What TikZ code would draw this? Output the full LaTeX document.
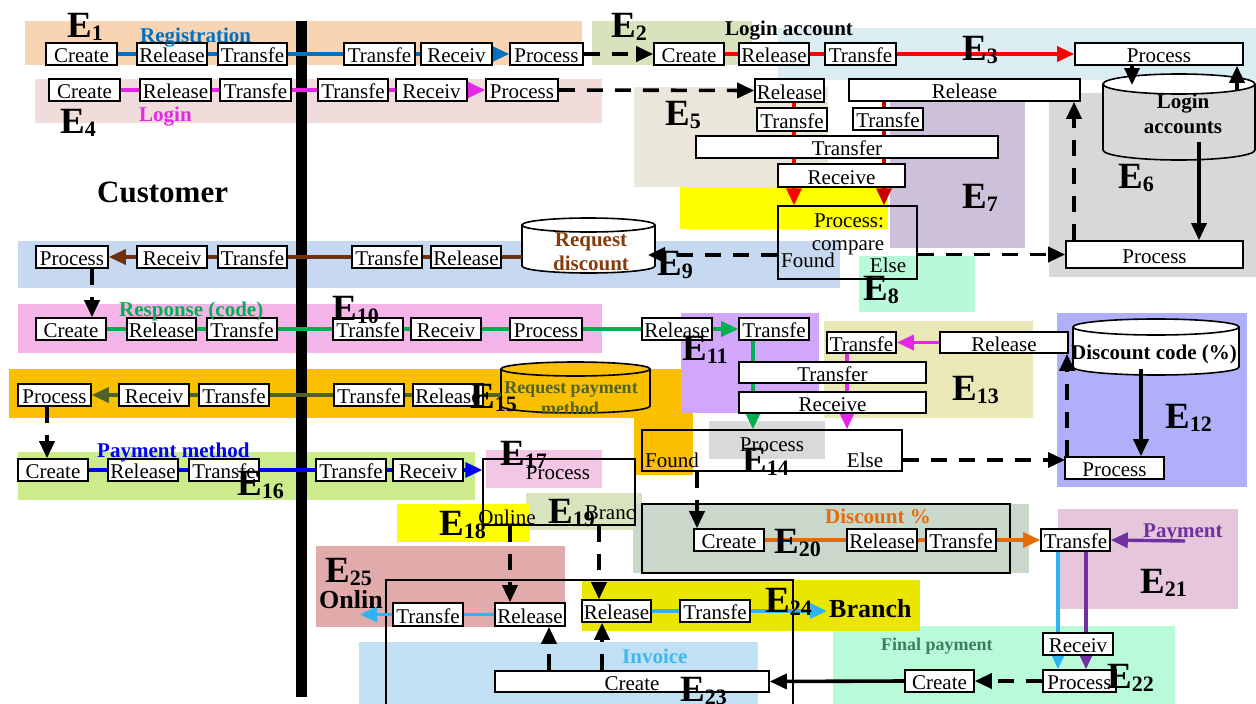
\documentclass[tikz,border=0pt]{standalone}
\usepackage{fontspec}
\setmainfont{Liberation Serif}
\usetikzlibrary{arrows.meta,calc}

\pgfdeclarelayer{bg}\pgfdeclarelayer{mid}\pgfdeclarelayer{lines}\pgfdeclarelayer{front}
\pgfsetlayers{bg,mid,lines,main,front}

% region fills
\definecolor{cE1}{HTML}{F8D4B2}\definecolor{cE4}{HTML}{F0DCDB}
\definecolor{cE2}{HTML}{D6E3BD}\definecolor{cE3}{HTML}{DAEDF3}
\definecolor{cE5}{HTML}{EAE6DA}\definecolor{cE7}{HTML}{CCC0DA}
\definecolor{yel}{HTML}{FFFF00}\definecolor{cE9}{HTML}{C6D9F0}
\definecolor{cE8}{HTML}{B9F9D9}\definecolor{cE6}{HTML}{D8D8D8}
\definecolor{cE10}{HTML}{F5B5E8}\definecolor{cE15}{HTML}{FAC000}
\definecolor{cE11}{HTML}{D2A6FA}\definecolor{cE13}{HTML}{EBE8B8}
\definecolor{cE12}{HTML}{AFAFFA}\definecolor{cE14}{HTML}{D9D9D9}
\definecolor{cE16}{HTML}{CCEC8C}\definecolor{cE17}{HTML}{F2C6E4}
\definecolor{cE19}{HTML}{D7E4BD}\definecolor{cE20}{HTML}{C9D8CB}
\definecolor{cE21}{HTML}{E6C6DB}\definecolor{cE22}{HTML}{B9FBD9}
\definecolor{cE25}{HTML}{E2ABAB}\definecolor{cE24}{HTML}{EAE600}
\definecolor{cE23}{HTML}{C1E0F3}
% flow colours
\definecolor{lnBlue}{HTML}{0070C0}\definecolor{lnMag}{HTML}{E626E6}
\definecolor{lnRed}{HTML}{FF0000}\definecolor{lnDRed}{HTML}{C80000}
\definecolor{lnBrown}{HTML}{6E3210}\definecolor{lnGreen}{HTML}{00B050}
\definecolor{lnOlive}{HTML}{4F6228}\definecolor{lnPure}{HTML}{0000FF}
\definecolor{lnOrange}{HTML}{E46C0A}\definecolor{lnPurple}{HTML}{7030A0}
\definecolor{lnSky}{HTML}{2EB4F0}\definecolor{txBrown}{HTML}{843C0C}
\definecolor{txFinal}{HTML}{3C7D5F}\definecolor{txInvoice}{HTML}{3FB8F0}

\newcommand\fsz[1]{\fontsize{#1}{#1}\selectfont}

% white step box: name, x1, y1, x2, y2, text
\newcommand\bx[6]{\node[bx, minimum width={#4-#2}, minimum height={#5-#3}] (#1) at ({(#2+#4)/2},{(#3+#5)/2}) {#6};}
% open frame: name, x1, y1, x2, y2
\newcommand\frm[5]{\node[frm, minimum width={#4-#2}, minimum height={#5-#3}] (#1) at ({(#2+#4)/2},{(#3+#5)/2}) {};}
% entity label E_n: name, x, y (baseline), index
\newcommand\Elab[4]{\node[elab] (#1) at (#2,#3) {E\raisebox{-3pt}{\fsz{22}#4}};}
% database cylinder: name, x1, y1, x2, y2, end radius, body fill, top fill
\newcommand\cyl[8]{%
  \pgfmathsetmacro\cyMidX{(#2+#4)/2}\pgfmathsetmacro\cyRadX{(#4-#2)/2}%
  \pgfmathsetmacro\cyTopY{#3+#6}\pgfmathsetmacro\cyBotY{#5-#6}%
  \pgfmathsetmacro\cyKx{0.5523*\cyRadX}\pgfmathsetmacro\cyKy{0.5523*#6}%
  \node[inner sep=0pt, minimum width={#4-#2}, minimum height={#5-#3}] (#1) at (\cyMidX,{(#3+#5)/2}) {};
  \path[draw, line width=1.6pt, fill=#7] (#2,\cyTopY) -- (#2,\cyBotY)
     .. controls (#2,\cyBotY+\cyKy) and (\cyMidX-\cyKx,#5) .. (\cyMidX,#5)
     .. controls (\cyMidX+\cyKx,#5) and (#4,\cyBotY+\cyKy) .. (#4,\cyBotY) -- (#4,\cyTopY);
  \draw[line width=1.6pt, fill=#8] (\cyMidX,\cyTopY) ellipse [x radius=\cyRadX, y radius=#6];
}

\tikzset{
  bx/.style={draw, line width=1.6pt, fill=white, inner sep=0pt, text height=17pt, text depth=0pt, font=\fsz{21}},
  frm/.style={draw, line width=1.4pt, inner sep=0pt},
  elab/.style={inner sep=0pt, anchor=base west, font=\fsz{37}\bfseries},
  tag/.style={inner sep=0pt, anchor=base west, font=\fsz{21}\bfseries},
  ctag/.style={inner sep=0pt, anchor=base, font=\fsz{21}\bfseries},
  txt/.style={inner sep=0pt, anchor=base, font=\fsz{21}},
  flow/.style={line width=3.4pt},
  tip/.style={-{Triangle[length=17pt,width=15pt]}},
  dsh/.style={line width=3.6pt, dash pattern=on 16pt off 12pt},
}

\begin{document}
\begin{tikzpicture}[x=1pt, y=-1pt]
\useasboundingbox (0,0) rectangle (1256,704);

% ---------- coloured regions ----------
\begin{pgfonlayer}{bg}
\fill[white] (0,0) rectangle (1256,704);
\fill[cE1] (25,21) rectangle (582,65);
\fill[cE4] (35,79) rectangle (602,123);
\fill[cE2] (592,21) rectangle (752,65);
\fill[cE3] (778,28) rectangle (1256,80);
\fill[cE5] (634,87) rectangle (828,187);
\fill[cE7] (890,87) rectangle (1025,248);
\fill[yel] (680,187) rectangle (888,229);
\fill[cE9] (18,241) rectangle (840,288);
\fill[cE8] (859,256) rectangle (975,312);
\fill[cE6] (1049,93) rectangle (1256,277);
\fill[cE10] (18,304) rectangle (602,353);
\fill[cE15] (9,369) rectangle (693,418);
\fill[cE15] (634,418) rectangle (693,475);
\fill[cE11] (681,313) rectangle (819,413);
\fill[cE13] (824,321) rectangle (1033,418);
\fill[cE12] (1057,313) rectangle (1247,487);
\fill[cE14] (709,421) rectangle (825,459);
\fill[cE16] (18,452) rectangle (475,500);
\fill[cE17] (486,450) rectangle (602,488);
\fill[cE19] (526,493) rectangle (642,530);
\fill[yel] (397,504) rectangle (530,542);
\fill[cE20] (633,504) rectangle (1029,573);
\fill[cE21] (1058,509) rectangle (1238,609);
\fill[cE22] (833,626) rectangle (1175,704);
\fill[cE25] (316,546) rectangle (565,627);
\fill[cE24] (582,580) rectangle (920,631);
\fill[cE23] (359,642) rectangle (758,704);
\end{pgfonlayer}

% ---------- swimlane bar, frames and data stores ----------
\begin{pgfonlayer}{mid}
\fill (296,21) rectangle (307,697);
\frm{cmp}{778}{206}{917}{279}
\frm{fe14}{642}{430}{902}{471}
\frm{fe17}{483}{459}{635}{525}
\frm{fr20}{642}{504}{1010}{573}
\frm{fr23}{386}{580}{793}{720}
\cyl{cyLA}{1103}{74}{1255}{160}{10}{cE6}{white}
\cyl{cyRD}{522}{218}{655}{273}{7}{white}{white}
\cyl{cyDC}{1073}{319}{1239}{375}{8}{white}{white}
\cyl{cyRP}{501}{362}{650}{413}{7}{cE15}{cE15}
\end{pgfonlayer}

% ---------- step boxes ----------
% E1 registration
\bx{a1}{46}{43}{117}{65}{Create}
\bx{a2}{137}{43}{207}{65}{Release}
\bx{a3}{218}{43}{287}{65}{Transfe}
\bx{a4}{344}{43}{415}{65}{Transfe}
\bx{a5}{421}{43}{492}{65}{Receiv}
\bx{a6}{510}{43}{583}{65}{Process}
% E2 / E3 login account
\bx{b1}{654}{43}{724}{65}{Create}
\bx{b2}{739}{43}{809}{65}{Release}
\bx{b3}{825}{43}{896}{65}{Transfe}
\bx{b4}{1075}{43}{1243}{65}{Process}
% E4 login
\bx{d1}{49}{79}{120}{101}{Create}
\bx{d2}{140}{79}{211}{101}{Release}
\bx{d3}{220}{79}{291}{101}{Transfe}
\bx{d4}{318}{79}{388}{101}{Transfe}
\bx{d5}{396}{79}{467}{101}{Receiv}
\bx{d6}{486}{79}{558}{101}{Process}
% E5 / E7
\bx{f1}{755}{79}{824}{102}{Release}
\bx{f2}{757}{108}{827}{131}{Transfe}
\bx{f3}{696}{136}{998}{158}{Transfer}
\bx{f4}{778}{164}{905}{187}{Receive}
\bx{g1}{849}{79}{1080}{101}{Release}
\bx{g2}{853}{108}{923}{130}{Transfe}
% E6
\bx{h1}{1066}{241}{1243}{268}{Process}
% E9 request discount
\bx{i1}{36}{246}{108}{268}{Process}
\bx{i2}{137}{246}{207}{268}{Receiv}
\bx{i3}{218}{246}{287}{268}{Transfe}
\bx{i4}{352}{246}{422}{268}{Transfe}
\bx{i5}{431}{246}{501}{268}{Release}
% E10 response
\bx{j1}{36}{318}{106}{340}{Create}
\bx{j2}{127}{318}{196}{340}{Release}
\bx{j3}{207}{318}{277}{340}{Transfe}
\bx{j4}{333}{318}{403}{340}{Transfe}
\bx{j5}{411}{318}{481}{340}{Receiv}
\bx{j6}{510}{318}{582}{340}{Process}
\bx{j7}{642}{318}{712}{340}{Release}
% E11
\bx{k1}{739}{318}{809}{340}{Transfe}
\bx{k2}{739}{362}{926}{383}{Transfer}
\bx{k3}{739}{392}{926}{413}{Receive}
% E13
\bx{m1}{827}{332}{896}{353}{Transfe}
\bx{m2}{940}{332}{1068}{353}{Release}
% E12
\bx{n1}{1065}{457}{1164}{479}{Process}
% E15 request payment method
\bx{o1}{18}{384}{91}{406}{Process}
\bx{o2}{119}{384}{189}{406}{Receiv}
\bx{o3}{199}{384}{269}{406}{Transfe}
\bx{o4}{334}{384}{404}{406}{Transfe}
\bx{o5}{413}{384}{483}{406}{Release}
% E16 payment method
\bx{q1}{18}{459}{88}{481}{Create}
\bx{q2}{108}{459}{178}{481}{Release}
\bx{q3}{189}{459}{259}{481}{Transfe}
\bx{q4}{316}{459}{386}{481}{Transfe}
\bx{q5}{393}{459}{463}{481}{Receiv}
% E20 discount
\bx{r1}{694}{529}{764}{551}{Create}
\bx{r2}{847}{529}{917}{551}{Release}
\bx{r3}{926}{529}{996}{551}{Transfe}
% E21 / E22
\bx{s1}{1041}{529}{1110}{551}{Transfe}
\bx{t1}{1043}{633}{1113}{655}{Receiv}
\bx{t2}{1043}{670}{1116}{692}{Process}
\bx{t3}{905}{670}{974}{692}{Create}
% E23 invoice
\bx{u1}{495}{671}{769}{692}{Create}
% E25 online
\bx{v1}{495}{603}{565}{626}{Release}
\bx{v2}{393}{603}{463}{626}{Transfe}
% E24 branch
\bx{w1}{582}{600}{651}{622}{Release}
\bx{w2}{680}{600}{750}{622}{Transfe}

% ---------- anchors for vertical and free-ended connectors ----------
\coordinate (vx5) at (794,0);
\coordinate (vx7) at (884,0);
\coordinate (la1) at (1132,85);
\coordinate (la2) at (1237,90);
\coordinate (la3) at (1199,142);
\coordinate (vx6) at (1074,0);
\coordinate (rdh) at (648,255);
\coordinate (vx9) at (92,0);
\coordinate (vx11) at (753,0);
\coordinate (vx13) at (847,0);
\coordinate (el14) at (1065,460);
\coordinate (dc1) at (1141,369);
\coordinate (vx12) at (1067,0);
\coordinate (vx15) at (47,0);
\coordinate (vx18) at (510,0);
\coordinate (vx19) at (599,0);
\coordinate (vx14) at (697,0);
\coordinate (py) at (1185,541);
\coordinate (vx21a) at (1058,0);
\coordinate (vx21b) at (1086,0);
\coordinate (vx23a) at (549,0);
\coordinate (vx23b) at (602,0);
\coordinate (olx) at (360,614.5);
\coordinate (brx) at (827,611);

% ---------- connectors ----------
\begin{pgfonlayer}{lines}
\draw[flow, lnBlue, tip] (a1.east) -- (a6.west);
\draw[dsh, tip] (a6.east) -- (b1.west);
\draw[flow, lnRed, tip] (b1.east) -- (b4.west);
\draw[flow, lnMag, tip] (d1.east) -- (d6.west);
\draw[dsh, tip] (d6.east) -- (f1.west);
\draw[flow, lnRed, tip] (f1.south -| vx5) -- (cmp.north -| vx5);
\draw[flow, lnDRed, tip] (g1.south -| vx7) -- (cmp.north -| vx7);
\draw[line width=3.4pt, tip] (b4.south -| la1) -- (la1);
\draw[line width=3.4pt, tip] (la2) -- (b4.south -| la2);
\draw[line width=3.4pt, tip] (la3) -- (h1.north -| la3);
\draw[dsh, tip] (h1.north -| vx6) -- (g1.south -| vx6);
\draw[dsh, tip] (cmp.west |- rdh) -- (rdh);
\draw[dsh, tip] (cmp.east |- h1.west) -- (h1.west);
\draw[flow, lnBrown, tip] (cyRD.west |- i5.east) -- (i1.east);
\draw[dsh, tip] (i1.south -| vx9) -- (j1.north -| vx9);
\draw[flow, lnGreen, tip] (j1.east) -- (k1.west);
\draw[flow, lnGreen, tip] (k1.south -| vx11) -- (fe14.north -| vx11);
\draw[flow, lnMag, tip] (m2.west) -- (m1.east);
\draw[flow, lnMag, tip] (m1.south -| vx13) -- (fe14.north -| vx13);
\draw[dsh, tip] (fe14.east |- el14) -- (el14);
\draw[line width=3.4pt, tip] (dc1) -- (n1.north -| dc1);
\draw[dsh, tip] (n1.north -| vx12) -- (m2.south -| vx12);
\draw[flow, lnOlive, tip] (cyRP.west |- o5.east) -- (o1.east);
\draw[dsh, tip] (o1.south -| vx15) -- (q1.north -| vx15);
\draw[flow, lnPure, tip] (q1.east) -- (fe17.west |- q1.east);
\draw[dsh, tip] (fe17.south -| vx18) -- (v1.north -| vx18);
\draw[dsh, tip] (fe17.south -| vx19) -- (w1.north -| vx19);
\draw[dsh, tip] (fe14.south -| vx14) -- (r1.north -| vx14);
\draw[flow, lnOrange, tip] (r1.east) -- (s1.west);
\draw[flow, lnPurple, tip] (py) -- (s1.east);
\draw[flow, lnSky, tip] (s1.south -| vx21a) -- (t2.north -| vx21a);
\draw[flow, lnPurple, tip] (s1.south -| vx21b) -- (t2.north -| vx21b);
\draw[dsh, tip] (t2.west) -- (t3.east);
\draw[line width=3.6pt, tip] (t3.west) -- (u1.east);
\draw[dsh, tip] (u1.north -| vx23a) -- (v1.south -| vx23a);
\draw[dsh, tip] (u1.north -| vx23b) -- (w1.south -| vx23b);
\draw[flow, lnSky, tip] (v1.west) -- (olx);
\draw[flow, lnSky, tip] (w1.east) -- (brx);
\end{pgfonlayer}

% ---------- texts ----------
\node[inner sep=0pt, anchor=base west, font=\fsz{31}\bfseries] (tCust) at (97,202) {Customer};
\node[tag, text=lnBlue] (tReg) at (140,42) {Registration};
\node[tag, text=lnMag] (tLog) at (139,121) {Login};
\node[tag] (tLacc) at (725,35) {Login account};
\node[tag, text=lnGreen] (tResp) at (119,316) {Response (code)};
\node[tag, text=lnPure] (tPay) at (97,457) {Payment method};
\node[tag, text=lnOrange] (tDisc) at (825,523) {Discount \%};
\node[tag, text=lnPurple] (tPmt) at (1143,537) {Payment};
\node[tag, font=\fsz{18}\bfseries, text=txFinal] (tFin) at (881,650) {Final payment};
\node[tag, text=txInvoice] (tInv) at (622,663) {Invoice};
\node[tag, font=\fsz{26}\bfseries] (tOnl) at (319,608) {Onlin};
\node[tag, font=\fsz{26}\bfseries] (tBr) at (829,617) {Branch};
\node[ctag] (tLa1) at (1183,108) {Login};
\node[ctag] (tLa2) at (1183,133) {accounts};
\node[ctag, text=txBrown] (tRd1) at (591,246) {Request};
\node[ctag, text=txBrown] (tRd2) at (591,270) {discount};
\node[ctag] (tDc) at (1154,359) {Discount code (\%)};
\node[ctag, font=\fsz{18}\bfseries, text=lnOlive] (tRp1) at (571,393) {Request payment};
\node[ctag, font=\fsz{18}\bfseries, text=lnOlive] (tRp2) at (570,414) {method};
\node[txt] (tC1) at (849,227) {Process:};
\node[txt] (tC2) at (848,250) {compare};
\node[txt] (tC3) at (808,267) {Found};
\node[txt] (tC4) at (888,272) {Else};
\node[txt] (tF1) at (672,467) {Found};
\node[txt] (tF2) at (772,451) {Process};
\node[txt] (tF3) at (865,467) {Else};
\node[txt] (tP1) at (558,479) {Process};
\node[txt] (tP2) at (507,524) {Online};
\node[txt] (tP3) at (610,519) {Branc};

% ---------- entity labels ----------
\begin{pgfonlayer}{front}
\Elab{e1}{67}{37}{1}
\Elab{e2}{611}{37}{2}
\Elab{e3}{962}{60}{3}
\Elab{e4}{60}{133}{4}
\Elab{e5}{665}{125}{5}
\Elab{e6}{1118}{188}{6}
\Elab{e7}{962}{208}{7}
\Elab{e8}{863}{300}{8}
\Elab{e9}{657}{275}{9}
\Elab{e10}{332}{320}{10}
\Elab{e11}{682}{360}{11}
\Elab{e12}{1165}{428}{12}
\Elab{e13}{952}{400}{13}
\Elab{e14}{742}{472}{14}
\Elab{e15}{470}{408}{15}
\Elab{e16}{237}{495}{16}
\Elab{e17}{500}{465}{17}
\Elab{e18}{439}{535}{18}
\Elab{e19}{548}{523}{19}
\Elab{e20}{774}{553}{20}
\Elab{e21}{1140}{593}{21}
\Elab{e22}{1107}{688}{22}
\Elab{e23}{680}{701}{23}
\Elab{e24}{765}{612}{24}
\Elab{e25}{325}{582}{25}
\end{pgfonlayer}
\end{tikzpicture}
\end{document}
